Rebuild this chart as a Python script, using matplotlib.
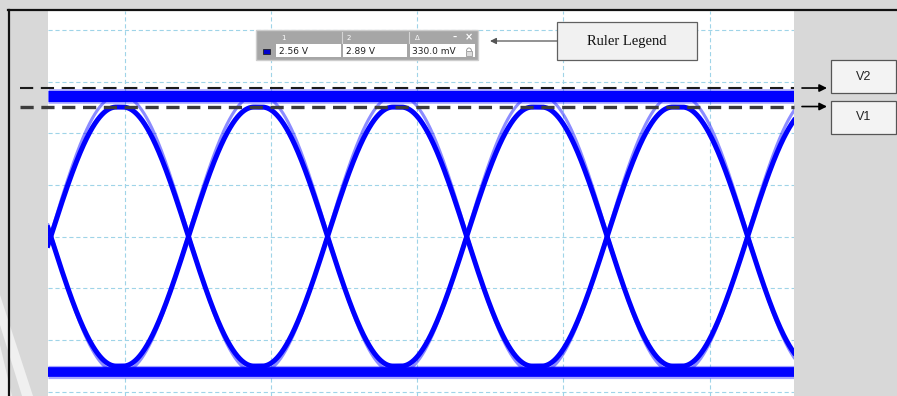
import numpy as np
import matplotlib
matplotlib.use('Agg')
import matplotlib.pyplot as plt
from matplotlib.patches import Rectangle, Polygon, FancyArrowPatch, Arc
from matplotlib.lines import Line2D

plt.rcParams['lines.scale_dashes'] = False

# ruler cursors (V)
v1 = 2.56
v2 = 2.89
# eye levels (V)
rail_hi = 2.74
rail_lo = -2.17
arc_hi = 2.55
arc_lo = -2.07
# crossing instants, in UI from the left screen edge
crossings = [0.02, 1.01, 2.01, 3.01, 4.02, 5.03]
edge_half = 0.47
bits_a = [1, 0, 1, 0, 1, 0, 1]
bits_b = [0, 1, 0, 1, 0, 1, 0]
# scope graticule
grid_t = [0.554, 1.603, 2.653, 3.702, 4.759]
grid_v = [3.925, 2.997, 2.087, 1.160, 0.232, -0.678, -1.605, -2.533]
t_span = (0.0, 5.363)
v_span = (-2.604, 4.264)

W, H = 897, 396
BG = '#d8d8d8'
BLUE = '#0000ff'


def fx(px):
    return px / W


def fy(py):
    return 1 - py / H


fig = plt.figure(figsize=(W / 100, H / 100), dpi=100, facecolor=BG)


def rect(x0, y0, x1, y1, **kw):
    r = Rectangle((fx(x0), fy(y1)), fx(x1) - fx(x0), (y1 - y0) / H,
                  transform=fig.transFigure, **kw)
    fig.add_artist(r)
    return r


# faint watermark bits in the grey margin
for pts in ([(0, 295), (33, 396), (22, 396), (0, 325)],
            [(0, 345), (12, 396), (0, 396)]):
    fig.add_artist(Polygon([(fx(x), fy(y)) for x, y in pts], closed=True,
                           transform=fig.transFigure, facecolor='#f0f0f0',
                           edgecolor='none', zorder=-1))

ax = fig.add_axes([fx(48), 0, fx(794) - fx(48), fy(11)])
ax.set_facecolor('white')
ax.set_xlim(*t_span)
ax.set_ylim(*v_span)
ax.set_xticks([])
ax.set_yticks([])
for s in ax.spines.values():
    s.set_visible(False)

for g in grid_t:
    ax.axvline(g, color='#9fd4e8', lw=0.8, linestyle=(0, (3, 2)), zorder=1)
for g in grid_v:
    ax.axhline(g, color='#9fd4e8', lw=0.8, linestyle=(0, (3, 2)), zorder=1)

t = np.linspace(t_span[0], t_span[1], 4000)


def trace(bits, hi, lo):
    lv = np.where(np.array(bits) == 1, hi, lo)
    y = np.full_like(t, lv[0])
    for k, c in enumerate(crossings):
        s = np.clip((t - c) / edge_half, -1, 1)
        y += (lv[k + 1] - lv[k]) * (1 + np.sin(np.pi / 2 * s)) / 2
    return y


for bits in (bits_a, bits_b):
    ax.plot(t, trace(bits, rail_hi, rail_lo), color=BLUE, lw=2.2, alpha=0.45, zorder=2)
    ax.plot(t, trace(bits, arc_hi, arc_lo), color=BLUE, lw=3.6, zorder=3)

# flat rails (long runs of ones / zeros)
ax.plot(t_span, [rail_hi, rail_hi], color=BLUE, lw=10.5, alpha=0.35, zorder=3, solid_capstyle='butt')
ax.plot(t_span, [rail_hi, rail_hi], color=BLUE, lw=8, zorder=3, solid_capstyle='butt')
ax.plot(t_span, [rail_lo, rail_lo], color=BLUE, lw=9.5, alpha=0.35, zorder=3, solid_capstyle='butt')
ax.plot(t_span, [rail_lo, rail_lo], color=BLUE, lw=7, zorder=3, solid_capstyle='butt')

# ruler cursors
x_left = -0.201
ax.plot([x_left, t_span[1]], [v2, v2], color='#1a1a1a', lw=1.5,
        linestyle=(0, (9.5, 5.5)), clip_on=False, zorder=5)
ax.plot([x_left, t_span[1]], [v1, v1], color='#3c3c3c', lw=2.4,
        linestyle=(0, (9.5, 5.5)), clip_on=False, zorder=5)

for v in (v2, v1):
    ax.annotate('', xy=(fx(827), v), xycoords=('figure fraction', 'data'),
                xytext=(fx(802), v), textcoords=('figure fraction', 'data'),
                arrowprops=dict(arrowstyle='-|>', color='black', lw=1.2,
                                mutation_scale=11, shrinkA=0, shrinkB=0),
                annotation_clip=False)

# screen frame
fig.add_artist(Line2D([fx(8), 1], [fy(10), fy(10)], color='#111111', lw=1.6,
                      transform=fig.transFigure, zorder=6))
fig.add_artist(Line2D([fx(9), fx(9)], [fy(10), 0], color='#111111', lw=1.6,
                      transform=fig.transFigure, zorder=6))

# V1 / V2 labels
rect(831, 60, 896, 93, facecolor='#f3f3f3', edgecolor='#555555', lw=0.9, zorder=4)
rect(831, 101, 896, 134, facecolor='#f3f3f3', edgecolor='#555555', lw=0.9, zorder=4)
fig.text(fx(864), fy(76.5), 'V2', ha='center', va='center', fontsize=9,
         family='Liberation Sans', color='#222222', zorder=7)
fig.text(fx(864), fy(117.5), 'V1', ha='center', va='center', fontsize=9,
         family='Liberation Sans', color='#222222', zorder=7)

# "Ruler Legend" callout
rect(557, 22, 697, 60, facecolor='#f1f1f1', edgecolor='#606060', lw=0.9, zorder=4)
fig.text(fx(627), fy(41), 'Ruler Legend', ha='center', va='center', fontsize=10.5,
         family='Liberation Serif', color='#111111', zorder=7)
fig.add_artist(FancyArrowPatch((fx(557), fy(41)), (fx(490), fy(41)),
                               transform=fig.transFigure, arrowstyle='-|>',
                               mutation_scale=9, color='#555555', lw=0.9,
                               shrinkA=0, shrinkB=0, zorder=4))

# ruler legend widget
rect(256, 30, 478, 60, facecolor='#a6a6a6', edgecolor='#cdcdcd', lw=1.0, zorder=4)
rect(276, 44, 341, 57, facecolor='white', edgecolor='none', zorder=5)
rect(343, 44, 407, 57, facecolor='white', edgecolor='none', zorder=5)
rect(410, 44, 475, 57, facecolor='white', edgecolor='none', zorder=5)
for xd in (342, 409):
    fig.add_artist(Line2D([fx(xd), fx(xd)], [fy(32), fy(43)], color='#d4d4d4',
                          lw=0.8, transform=fig.transFigure, zorder=5))
rect(263, 49, 270, 54, facecolor='#0000cc', edgecolor='#222222', lw=0.6, zorder=5)
for xs, s in ((281, '1'), (347, '2'), (415, 'Δ')):
    fig.text(fx(xs), fy(37.5), s, color='white', fontsize=5, va='center', zorder=7)
fig.text(fx(455), fy(37), '–', color='white', fontsize=6, ha='center', va='center',
         weight='bold', zorder=7)
fig.text(fx(469), fy(37), '×', color='white', fontsize=7, ha='center', va='center',
         weight='bold', zorder=7)
fig.text(fx(279), fy(51), f'{v1:.2f} V', fontsize=6.5, va='center', color='#222222', zorder=7)
fig.text(fx(346), fy(51), f'{v2:.2f} V', fontsize=6.5, va='center', color='#222222', zorder=7)
fig.text(fx(412), fy(51), f'{(v2 - v1) * 1000:.1f} mV', fontsize=6.5, va='center',
         color='#222222', zorder=7)
rect(466, 51, 472, 56, facecolor='#dddddd', edgecolor='#9a9a9a', lw=0.6, zorder=6)
fig.add_artist(Arc((fx(469), fy(51)), 5 / W, 6 / H, theta1=0, theta2=180,
                   transform=fig.transFigure, color='#9a9a9a', lw=0.7, zorder=6))

fig.savefig('out.png', dpi=100, facecolor=BG)
